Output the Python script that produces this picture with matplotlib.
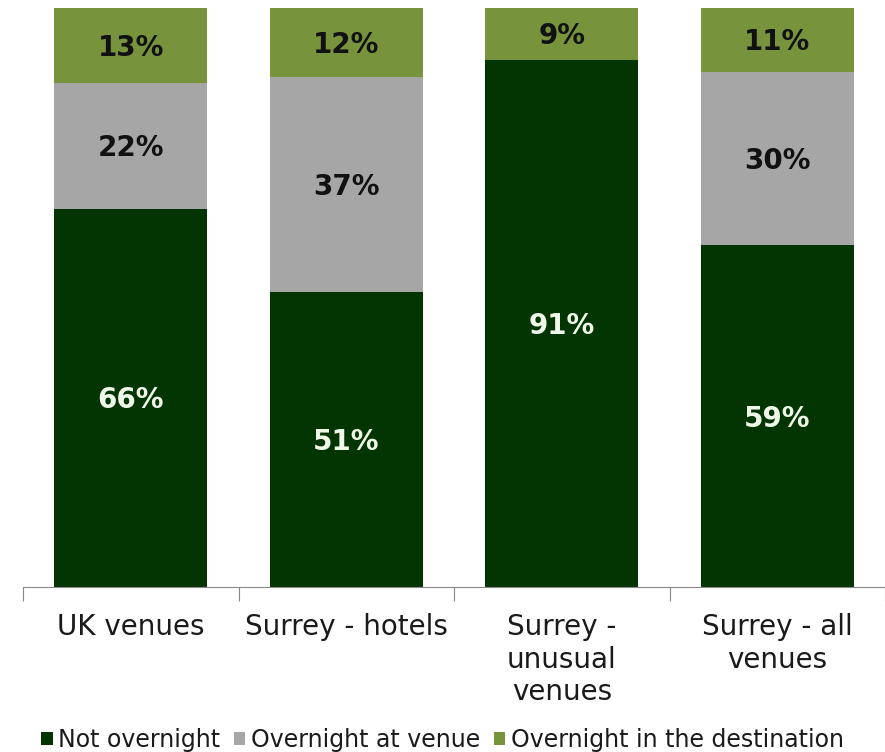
import numpy as np
import matplotlib.pyplot as plt

categories = ["UK venues", "Surrey - hotels", "Surrey -\nunusual\nvenues", "Surrey - all\nvenues"]
not_overnight = [66, 51, 91, 59]
at_venue = [22, 37, 0, 30]
destination = [13, 12, 9, 11]
series_names = ["Not overnight", "Overnight at venue", "Overnight in the destination"]
colors = ["#033503", "#a6a6a6", "#77933c"]
text_colors = ["#eef7e8", "#111111", "#111111"]

fig = plt.figure(figsize=(8.85, 7.52), dpi=100)
ax = fig.add_axes([0.026, 0.2194, 0.974, 0.770])

data = np.array([not_overnight, at_venue, destination], dtype=float)
# 100% stacked columns
shares = data / data.sum(axis=0) * 100
x = np.arange(len(categories))
bottom = np.zeros(len(categories))
for i in range(3):
    ax.bar(x, shares[i], 0.71, bottom=bottom, color=colors[i], label=series_names[i])
    for j in range(len(categories)):
        if data[i, j] > 0:
            ax.text(x[j], bottom[j] + shares[i, j] / 2 - 0.4, "%d%%" % data[i, j],
                    ha="center", va="center", fontsize=20, fontweight="bold",
                    color=text_colors[i])
    bottom += shares[i]

ax.set_xlim(-0.5, len(categories) - 0.5)
ax.set_ylim(0, 100)
for s in ["top", "left", "right"]:
    ax.spines[s].set_visible(False)
ax.spines["bottom"].set_color("#888888")
ax.set_yticks([])
ax.set_xticks(np.arange(len(categories) + 1) - 0.5)
ax.set_xticklabels([])
ax.tick_params(axis="x", length=10, color="#888888", direction="out")
ax.set_xticks(x, minor=True)
ax.set_xticklabels(categories, minor=True, fontsize=20, color="#1a1a1a", va="top",
                   linespacing=1.2)
ax.tick_params(axis="x", which="minor", length=0, pad=19)

fig.legend(loc="lower center", bbox_to_anchor=(0.5, -0.028), ncol=3, frameon=False,
           fontsize=17, handlelength=0.5, handleheight=0.5, handletextpad=0.25,
           columnspacing=0.55, labelcolor="#1a1a1a")

fig.savefig("out.png", dpi=100)
